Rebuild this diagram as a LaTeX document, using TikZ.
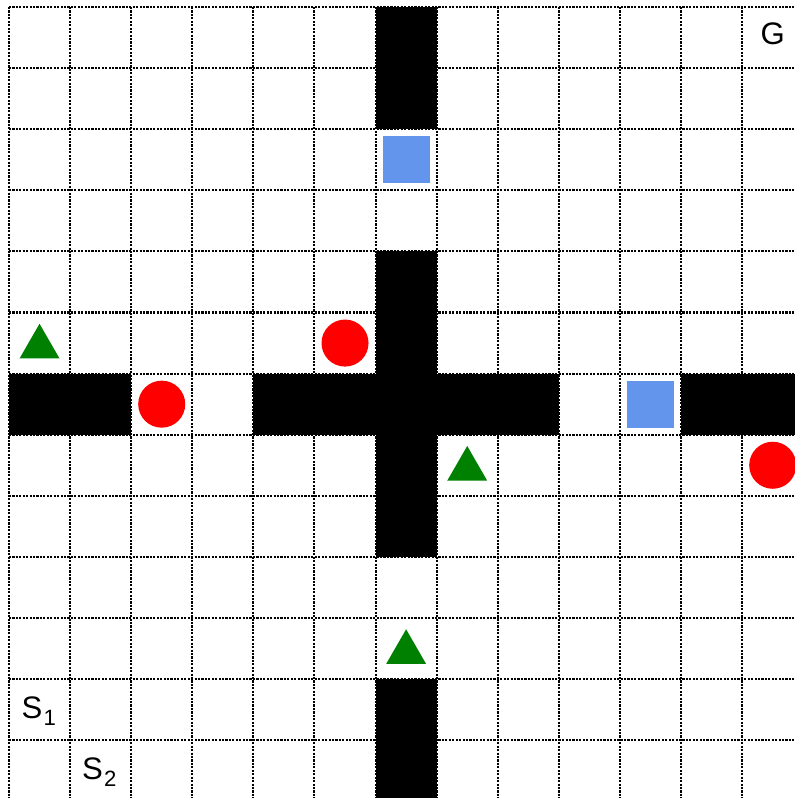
\documentclass[tikz,border=0pt]{standalone}
\usepackage{fontspec}
\setmainfont{Liberation Sans}
\definecolor{cblue}{HTML}{6495ED}
\definecolor{mgreen}{HTML}{008000}
\definecolor{mred}{HTML}{FF0000}
\tikzset{
  gridline/.style={black, line width=0.95pt, dash pattern=on 1pt off 0.6pt},
  wall/.style={fill=black},
  coin/.style={circle, fill=mred, draw=none, minimum size=0.77cm, inner sep=0pt},
  block/.style={rectangle, fill=cblue, draw=none, minimum size=0.77cm, inner sep=0pt},
  lbl/.style={font=\fontsize{14.5}{17}\selectfont, inner sep=0pt},
}
\newcommand{\tri}[3]{\fill[mgreen] (#1-0.327,#2+0.252) -- (#1+0.327,#2+0.252) -- (#1,#2-0.316) -- cycle; \coordinate (#3) at (#1,#2);}
\newcommand{\subone}[1]{S\kern0.04em\raisebox{-3.7pt}{\fontsize{10.3}{12}\selectfont #1}}
\begin{document}
\begin{tikzpicture}[x=1cm,y=-1cm]
\useasboundingbox (-0.147,-0.115) rectangle (12.864,12.946);
\clip (-0.147,-0.115) rectangle (12.864,12.946);
\fill[white] (-0.147,-0.115) rectangle (12.864,12.946);
% grid
\foreach \i in {0,...,13} {
  \draw[gridline] (\i,0) -- (\i,13);
  \draw[gridline] (0,\i) -- (13,\i);
}
% walls
\fill[wall] (6,0) rectangle (7,2);
\fill[wall] (6,4) rectangle (7,9);
\fill[wall] (6,11) rectangle (7,13);
\fill[wall] (0,6) rectangle (2,7);
\fill[wall] (4,6) rectangle (9,7);
\fill[wall] (11,6) rectangle (13,7);
% objects
\node[block] (b1) at (6.5,2.5) {};
\node[block] (b2) at (10.5,6.5) {};
\node[coin] (c1) at (2.5,6.5) {};
\node[coin] (c2) at (5.5,5.5) {};
\node[coin] (c3) at (12.5,7.5) {};
\tri{0.5}{5.5}{t1}
\tri{7.5}{7.5}{t2}
\tri{6.5}{10.5}{t3}
% labels
\node[lbl] (G) at (12.5,0.435) {G};
\node[lbl, anchor=base west] (S1) at (0.20,11.637) {\subone{1}};
\node[lbl, anchor=base west] (S2) at (1.19,12.635) {\subone{2}};
\end{tikzpicture}
\end{document}
